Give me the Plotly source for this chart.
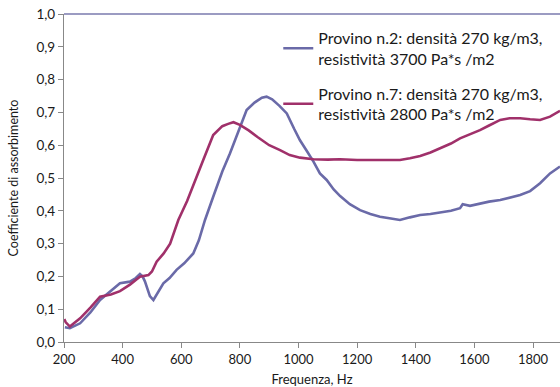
import plotly.graph_objects as go

freq_n2 = [203, 220, 255, 290, 323, 360, 391, 425, 445, 459, 468, 476, 485, 493, 505, 520, 539, 560, 584, 610, 641, 660, 681, 709, 740, 766, 800, 823, 850, 875, 891, 910, 935, 960, 985, 1005, 1030, 1051, 1073, 1096, 1120, 1142, 1175, 1210, 1245, 1278, 1310, 1346, 1380, 1415, 1450, 1483, 1520, 1551, 1560, 1585, 1619, 1650, 1688, 1720, 1756, 1790, 1824, 1858, 1892]
alpha_n2 = [0.045, 0.042, 0.057, 0.09, 0.128, 0.155, 0.179, 0.184, 0.195, 0.207, 0.2, 0.185, 0.16, 0.14, 0.128, 0.15, 0.179, 0.195, 0.22, 0.24, 0.27, 0.31, 0.372, 0.443, 0.52, 0.575, 0.656, 0.707, 0.73, 0.745, 0.748, 0.74, 0.72, 0.697, 0.65, 0.615, 0.58, 0.55, 0.514, 0.494, 0.465, 0.445, 0.42, 0.402, 0.39, 0.382, 0.377, 0.372, 0.38, 0.387, 0.39, 0.395, 0.4, 0.408, 0.42, 0.415, 0.423, 0.428, 0.433, 0.44, 0.448, 0.46, 0.484, 0.514, 0.535]

freq_n7 = [201, 206, 220, 240, 255, 290, 323, 360, 391, 425, 459, 488, 500, 516, 540, 562, 590, 620, 650, 675, 709, 740, 760, 778, 800, 830, 860, 900, 937, 970, 1005, 1051, 1100, 1142, 1200, 1278, 1346, 1380, 1415, 1450, 1483, 1520, 1551, 1585, 1619, 1650, 1688, 1720, 1756, 1790, 1824, 1858, 1892]
alpha_n7 = [0.07, 0.06, 0.047, 0.06, 0.072, 0.105, 0.138, 0.145, 0.155, 0.175, 0.199, 0.204, 0.215, 0.245, 0.27, 0.3, 0.372, 0.43, 0.5, 0.555, 0.631, 0.658, 0.665, 0.67, 0.662, 0.645, 0.625, 0.6, 0.585, 0.57, 0.562, 0.557, 0.556, 0.557, 0.555, 0.555, 0.555, 0.56, 0.567, 0.578, 0.59, 0.605, 0.621, 0.633, 0.646, 0.66, 0.677, 0.682, 0.682, 0.679, 0.677, 0.687, 0.705]

name_n2 = "Provino n.2: densità 270 kg/m3,<br>resistività 3700 Pa*s /m2"
name_n7 = "Provino n.7: densità 270 kg/m3,<br>resistività 2800 Pa*s /m2"

x_ticks = [200, 400, 600, 800, 1000, 1200, 1400, 1600, 1800]
y_ticks = [0.0, 0.1, 0.2, 0.3, 0.4, 0.5, 0.6, 0.7, 0.8, 0.9, 1.0]

font_family = "Lato, 'Open Sans', sans-serif"

fig = go.Figure()
fig.add_trace(go.Scatter(x=freq_n2, y=alpha_n2, mode="lines", name=name_n2, legendgroup="n2",
                         line=dict(color="#6A6AA8", width=2.6)))
fig.add_trace(go.Scatter(x=freq_n7, y=alpha_n7, mode="lines", name=name_n7, legendgroup="n7",
                         line=dict(color="#A0306A", width=2.6)))

fig.add_shape(type="line", xref="paper", yref="paper", x0=0, x1=1, y0=1.0, y1=1.0,
              line=dict(color="#7A7AAE", width=1.5))

fig.update_layout(
    width=560, height=387,
    margin=dict(l=64, r=0, t=14, b=45),
    paper_bgcolor="white", plot_bgcolor="white",
    separators=",.",
    font=dict(family=font_family, color="#1a1a1a"),
    showlegend=True,
    legend=dict(x=0.432, y=0.979, xanchor="left", yanchor="top",
                bgcolor="rgba(0,0,0,0)", font=dict(size=16),
                tracegroupgap=11, itemwidth=30),
    xaxis=dict(range=[200, 1892], tickvals=x_ticks, tickformat="d", automargin=False,
               showgrid=False, zeroline=False, showline=True,
               linecolor="#888888", linewidth=1.2,
               ticks="outside", ticklen=5, tickcolor="#888888",
               tickfont=dict(size=13),
               title=dict(text="Frequenza, Hz", font=dict(size=13), standoff=12)),
    yaxis=dict(range=[0, 1.0], tickvals=y_ticks, tickformat=".1f", automargin=False,
               showgrid=False, zeroline=False, showline=True,
               linecolor="#888888", linewidth=1.2,
               ticks="outside", ticklen=5, tickcolor="#888888",
               tickfont=dict(size=13.5),
               title=dict(text="Coefficiente di assorbimento", font=dict(size=12.5), standoff=15)),
)

fig.write_html("out.html", config={"displayModeBar": False},
               post_script="document.body.style.margin='0';")
